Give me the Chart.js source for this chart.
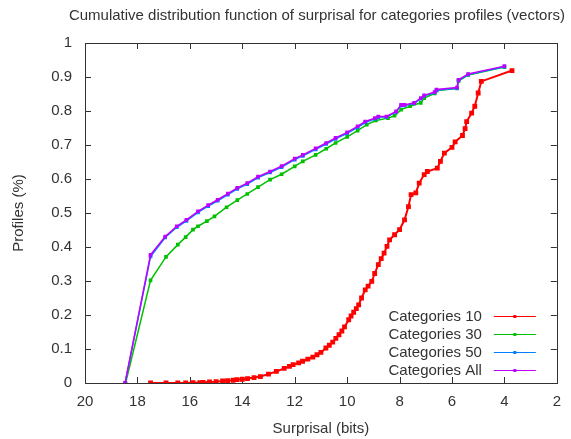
<!DOCTYPE html>
<html>
<head>
<meta charset="utf-8">
<script src="https://cdn.jsdelivr.net/npm/chart.js@4"></script>
<style>
  body { margin: 0; background: #fff; }
  canvas { display: block; }
</style>
</head>
<body>
<canvas id="c" width="571" height="439"></canvas>
<script>
// --- DATA --- //
const seriesLabels = ["Categories 10", "Categories 30", "Categories 50", "Categories All"];
const xTicks = [20, 18, 16, 14, 12, 10, 8, 6, 4, 2];

// Categories 10
const redX = [17.5, 16.91, 16.46, 16.16, 15.88, 15.62, 15.5, 15.25, 15.0, 14.75,
  14.56, 14.35, 14.2, 14.0, 13.8, 13.55, 13.31, 13.0, 12.7, 12.4,
  12.2, 12.06, 11.85, 11.7, 11.5, 11.31, 11.15, 11.0, 10.81, 10.68,
  10.55, 10.43, 10.31, 10.2, 10.1, 9.94, 9.85, 9.75, 9.65, 9.56,
  9.45, 9.31, 9.2, 9.06, 8.95, 8.81, 8.7, 8.59, 8.48, 8.38,
  8.19, 8.0, 7.81, 7.66, 7.56, 7.38, 7.25, 7.06, 6.94, 6.56,
  6.44, 6.29, 6.0, 5.88, 5.6, 5.5, 5.44, 5.25, 5.13, 5.0,
  4.88, 3.71];
const redY = [0, 0, 0, 0, 0.001, 0.001, 0.002, 0.003, 0.004, 0.006,
  0.007, 0.008, 0.01, 0.011, 0.013, 0.016, 0.019, 0.026, 0.034, 0.043,
  0.049, 0.054, 0.059, 0.064, 0.07, 0.076, 0.083, 0.09, 0.103, 0.111,
  0.12, 0.131, 0.142, 0.153, 0.165, 0.186, 0.197, 0.208, 0.219, 0.23,
  0.25, 0.274, 0.285, 0.299, 0.322, 0.348, 0.366, 0.382, 0.402, 0.421,
  0.436, 0.451, 0.48, 0.519, 0.554, 0.559, 0.588, 0.613, 0.622, 0.632,
  0.652, 0.676, 0.693, 0.709, 0.728, 0.748, 0.769, 0.794, 0.814, 0.853,
  0.887, 0.919];

// Categories 30
const greenX = [18.45, 17.5, 16.91, 16.46, 16.16, 15.88, 15.69, 15.35, 15.06, 14.6, 14.19, 13.81, 13.4, 12.94, 12.5, 12.0, 11.69, 11.2, 10.8, 10.44, 10.0, 9.6, 9.25, 8.9, 8.44, 8.19, 7.94, 7.6, 7.19, 7.06, 6.66, 6.59, 5.81, 5.75, 5.38, 4.0];
const greenY = [0, 0.302, 0.371, 0.407, 0.429, 0.451, 0.461, 0.476, 0.49, 0.517, 0.538, 0.556, 0.576, 0.598, 0.614, 0.637, 0.652, 0.671, 0.689, 0.706, 0.724, 0.742, 0.76, 0.772, 0.779, 0.786, 0.804, 0.814, 0.824, 0.838, 0.852, 0.86, 0.866, 0.888, 0.906, 0.929];

// Categories 50 and All share the same surprisal steps
const allX = [18.47, 17.5, 16.94, 16.5, 16.13, 15.69, 15.3, 14.94, 14.55, 14.19, 13.81, 13.4, 12.94, 12.5, 12.0, 11.69, 11.2, 10.8, 10.44, 10.0, 9.6, 9.31, 8.94, 8.81, 8.5, 8.13, 7.94, 7.81, 7.44, 7.19, 7.06, 6.66, 6.59, 5.81, 5.75, 5.38, 4.0];
const blueY = [0, 0.372, 0.428, 0.458, 0.477, 0.502, 0.52, 0.536, 0.554, 0.571, 0.585, 0.604, 0.619, 0.635, 0.657, 0.668, 0.687, 0.703, 0.718, 0.734, 0.752, 0.766, 0.777, 0.782, 0.782, 0.797, 0.816, 0.816, 0.822, 0.836, 0.844, 0.854, 0.861, 0.867, 0.89, 0.907, 0.93];
const purpleY = [0, 0.377, 0.431, 0.461, 0.48, 0.505, 0.523, 0.539, 0.557, 0.574, 0.588, 0.607, 0.622, 0.638, 0.66, 0.671, 0.69, 0.706, 0.721, 0.737, 0.755, 0.769, 0.779, 0.784, 0.784, 0.799, 0.818, 0.818, 0.824, 0.838, 0.846, 0.856, 0.863, 0.869, 0.892, 0.909, 0.932];

const colors = ["#ff0000", "#00c000", "#0080ff", "#c000ff"];

function zip(xs, ys) {
  return xs.map((x, i) => ({ x: x, y: ys[i] }));
}

const TEXT = "#333";
const FONT = "'Liberation Sans', Arial, sans-serif";

// --- PLUGINS --- //
// gnuplot-like frame with inward ticks on all four sides
const framePlugin = {
  id: "frame",
  beforeDatasetsDraw(chart) {
    const { ctx, chartArea: a, scales } = chart;
    ctx.save();
    ctx.strokeStyle = "#333";
    ctx.lineWidth = 1;
    ctx.strokeRect(Math.round(a.left) + 0.5, Math.round(a.top) + 0.5,
      Math.round(a.right - a.left), Math.round(a.bottom - a.top));
    ctx.beginPath();
    scales.x.ticks.forEach((t) => {
      const px = Math.round(scales.x.getPixelForValue(t.value)) + 0.5;
      ctx.moveTo(px, a.bottom); ctx.lineTo(px, a.bottom - 6);
      ctx.moveTo(px, a.top); ctx.lineTo(px, a.top + 6);
    });
    scales.y.ticks.forEach((t) => {
      const py = Math.round(scales.y.getPixelForValue(t.value)) + 0.5;
      ctx.moveTo(a.left, py); ctx.lineTo(a.left + 6, py);
      ctx.moveTo(a.right, py); ctx.lineTo(a.right - 6, py);
    });
    ctx.stroke();
    ctx.restore();
  },
};

// title centred over the plot, legend inside the bottom right corner
const textPlugin = {
  id: "texts",
  afterDraw(chart) {
    const { ctx, chartArea: a } = chart;
    ctx.save();
    ctx.fillStyle = TEXT;
    ctx.font = "15px " + FONT;
    ctx.textAlign = "center";
    ctx.textBaseline = "middle";
    ctx.fillText("Cumulative distribution function of surprisal for categories profiles (vectors)",
      (a.left + a.right) / 2 - 4, 16);

    const n = chart.data.datasets.length;
    chart.data.datasets.forEach((ds, i) => {
      const y = Math.round(a.bottom - 13 - (n - 1 - i) * 18) + 0.5;
      ctx.fillStyle = TEXT;
      ctx.textAlign = "right";
      ctx.fillText(ds.label, a.right - 75, y);
      ctx.strokeStyle = ds.borderColor;
      ctx.lineWidth = 1;
      ctx.beginPath();
      ctx.moveTo(a.right - 63, y);
      ctx.lineTo(a.right - 21, y);
      ctx.stroke();
      ctx.fillStyle = ds.borderColor;
      ctx.fillRect(a.right - 43.5, y - 1.5, 3, 3);
    });
    ctx.restore();
  },
};

// --- CHART --- //
new Chart(document.getElementById("c"), {
  type: "line",
  data: {
    datasets: [
      { label: seriesLabels[0], data: zip(redX, redY), borderColor: colors[0], backgroundColor: colors[0], order: 4, pointRadius: 2, borderWidth: 2 },
      { label: seriesLabels[1], data: zip(greenX, greenY), borderColor: colors[1], backgroundColor: colors[1], order: 3, borderWidth: 1.5 },
      { label: seriesLabels[2], data: zip(allX, blueY), borderColor: colors[2], backgroundColor: colors[2], order: 2, borderWidth: 1.5 },
      { label: seriesLabels[3], data: zip(allX, purpleY), borderColor: colors[3], backgroundColor: colors[3], order: 1, borderWidth: 1.5 },
    ],
  },
  options: {
    responsive: false,
    animation: false,
    layout: { padding: { top: 43, right: 5, left: 0, bottom: 0 } },
    elements: {
      line: { borderWidth: 1, tension: 0 },
      point: { radius: 1.5, pointStyle: "rect", borderWidth: 0 },
    },
    plugins: {
      legend: { display: false },
      title: { display: false },
      tooltip: { enabled: false },
    },
    scales: {
      x: {
        type: "linear",
        reverse: true,
        min: 2,
        max: 20,
        afterBuildTicks(scale) {
          scale.ticks = xTicks.map((v) => ({ value: v }));
        },
        afterFit(scale) { scale.height = 56; },
        grid: { display: false, drawTicks: false },
        border: { display: false },
        ticks: { color: TEXT, font: { size: 15, family: FONT }, padding: 10, maxRotation: 0 },
        title: {
          display: true, text: "Surprisal (bits)", color: TEXT,
          font: { size: 15, family: FONT }, padding: { top: 0, bottom: 1 },
        },
      },
      y: {
        type: "linear",
        min: 0,
        max: 1,
        afterFit(scale) { scale.width = 85; },
        grid: { display: false, drawTicks: false },
        border: { display: false },
        ticks: {
          stepSize: 0.1, color: TEXT, font: { size: 15, family: FONT }, padding: 13,
          callback: (v) => String(+v.toFixed(1)),
        },
        title: {
          display: true, text: "Profiles (%)", color: TEXT,
          font: { size: 15, family: FONT }, padding: { top: 10, bottom: 0 },
        },
      },
    },
  },
  plugins: [framePlugin, textPlugin],
});
</script>
</body>
</html>
